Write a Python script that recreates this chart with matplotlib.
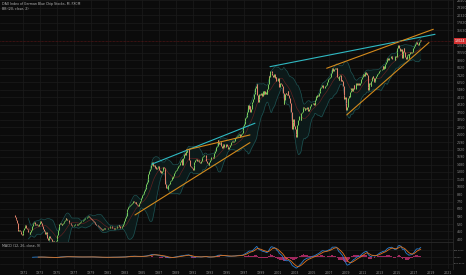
import numpy as np
import pandas as pd
import matplotlib
matplotlib.use("Agg")
import matplotlib.pyplot as plt
from matplotlib.transforms import blended_transform_factory

# ---------------- data ----------------
title = "DAX Index of German Blue Chip Stocks, M, FXCM"
bb_label = "BB (20, close, 2)"
macd_label = "MACD (12, 26, close, 9)"
start_year = 1970
first_open = 610

close_1970s = [
    590, 570, 560, 530, 480, 460, 470, 465, 450, 440, 430, 444,
    470, 490, 500, 510, 490, 480, 470, 450, 450, 440, 450, 473,
    500, 520, 530, 540, 520, 510, 520, 525, 510, 500, 520, 536,
    550, 530, 510, 500, 480, 460, 450, 440, 450, 440, 410, 396,
    410, 420, 410, 400, 390, 380, 385, 375, 372, 380, 390, 402,
    430, 470, 500, 520, 530, 520, 510, 520, 530, 540, 550, 563,
    580, 570, 560, 555, 540, 535, 530, 520, 510, 505, 500, 509,
    515, 520, 525, 520, 515, 510, 520, 530, 540, 545, 550, 549,
    555, 560, 570, 575, 580, 575, 585, 595, 600, 590, 580, 575,
    570, 560, 550, 545, 540, 530, 520, 515, 510, 505, 500, 498,
]
close_1980s = [
    495, 485, 475, 470, 475, 480, 485, 480, 478, 476, 478, 481,
    485, 490, 495, 505, 500, 495, 490, 485, 480, 480, 485, 490,
    495, 500, 505, 510, 500, 490, 490, 495, 505, 520, 535, 553,
    580, 600, 640, 680, 700, 710, 720, 730, 740, 745, 760, 774,
    780, 770, 760, 765, 740, 730, 720, 740, 760, 780, 800, 821,
    860, 880, 900, 930, 960, 1000, 1050, 1090, 1150, 1250, 1310, 1366,
    1400, 1480, 1560, 1540, 1450, 1460, 1400, 1420, 1380, 1400, 1420, 1432,
    1350, 1300, 1320, 1280, 1310, 1350, 1420, 1400, 1380, 1050, 980, 1000,
    970, 1040, 1050, 1080, 1100, 1130, 1180, 1160, 1220, 1280, 1300, 1328,
    1340, 1370, 1400, 1440, 1480, 1520, 1560, 1600, 1630, 1480, 1650, 1790,
]
close_1990s = [
    1800, 1760, 1880, 1840, 1900, 1920, 1960, 1600, 1450, 1430, 1420, 1398,
    1350, 1480, 1560, 1590, 1620, 1570, 1580, 1600, 1570, 1560, 1520, 1578,
    1650, 1700, 1720, 1730, 1760, 1750, 1660, 1580, 1530, 1500, 1480, 1545,
    1600, 1640, 1680, 1690, 1650, 1680, 1810, 1880, 1890, 2030, 2050, 2267,
    2200, 2120, 2150, 2180, 2060, 1980, 2070, 2120, 2000, 2020, 2020, 2107,
    2050, 2000, 1950, 2030, 2090, 2090, 2200, 2240, 2210, 2180, 2230, 2254,
    2350, 2400, 2450, 2470, 2480, 2510, 2420, 2450, 2550, 2580, 2700, 2889,
    3040, 3200, 3380, 3400, 3550, 3700, 4230, 3900, 4150, 3750, 3950, 4250,
    4400, 4700, 5100, 5300, 5700, 5900, 6100, 5000, 4400, 4650, 5100, 5002,
    5200, 4900, 4900, 5400, 5100, 5350, 5100, 5250, 5150, 5550, 6100, 6958,
]
close_2000s = [
    6850, 7600, 7600, 7400, 7100, 6900, 7200, 7300, 6800, 6900, 6400, 6434,
    6800, 6200, 5800, 6200, 6100, 6050, 5860, 5200, 4300, 4600, 5150, 5160,
    5100, 5050, 5400, 5050, 4800, 4380, 3700, 3700, 2770, 3150, 3320, 2893,
    2750, 2550, 2420, 2940, 2980, 3220, 3490, 3480, 3260, 3650, 3750, 3965,
    4060, 4020, 3860, 3985, 3920, 4050, 3900, 3790, 3890, 3960, 4130, 4256,
    4250, 4350, 4350, 4180, 4460, 4590, 4890, 4830, 5040, 4930, 5190, 5408,
    5680, 5800, 5970, 6010, 5690, 5680, 5680, 5860, 6000, 6270, 6310, 6597,
    6790, 6720, 6920, 7410, 7880, 8010, 7580, 7640, 7860, 8020, 7870, 8067,
    6850, 6750, 6530, 6950, 7100, 6420, 6480, 6420, 5830, 4990, 4670, 4810,
    4340, 3840, 4080, 4770, 4940, 4810, 5330, 5460, 5680, 5410, 5630, 5957,
]
close_2010s = [
    5610, 5600, 6150, 6140, 5960, 5970, 6150, 5930, 6230, 6600, 6690, 6914,
    7080, 7270, 7040, 7510, 7290, 7380, 7160, 5780, 5500, 6140, 6090, 5898,
    6460, 6860, 6950, 6760, 6260, 6420, 6770, 6970, 7220, 7260, 7400, 7612,
    7780, 7740, 7800, 7910, 8350, 7960, 8280, 8100, 8590, 9030, 9400, 9552,
    9310, 9690, 9560, 9600, 9940, 9830, 9410, 9470, 9470, 9330, 9980, 9806,
    10690, 11400, 11970, 11450, 11410, 10940, 11310, 10260, 9660, 10850, 11380, 10743,
    9800, 9500, 9970, 10040, 10260, 9680, 10340, 10590, 10510, 10670, 10640, 11481,
    11540, 11830, 12310, 12440, 12620, 12330, 12120, 12060, 12830, 13230, 13024,
]

year_ticks = list(range(1971, 2022, 2))
price_ticks = [400, 460, 520, 590, 680, 770, 880, 1000, 1140, 1300, 1480, 1690,
               1920, 2190, 2500, 2850, 3250, 3700, 4220, 4810, 5480, 6250, 7120,
               8120, 9260, 10550, 12030, 15630, 17820, 20320, 23160, 26400]
macd_ticks = [500, 0, -500]
last_price = 13024.0

trend_cyan = [((1986.13, 1489), (1998.30, 3057)),
              ((2000.07, 8250), (2019.52, 14560))]
trend_orange = [((1990.25, 1914), (1997.71, 2489)),
                ((1984.16, 611), (1997.71, 2175)),
                ((2006.75, 8021), (2019.32, 15910)),
                ((2009.11, 3535), (2018.81, 12600))]

# ---------------- derived series ----------------
close = pd.Series(close_1970s + close_1980s + close_1990s + close_2000s + close_2010s, dtype=float)
t = start_year + np.arange(len(close)) / 12.0
opens = close.shift(1).fillna(first_open)

basis = close.rolling(20).mean()
sd = close.rolling(20).std(ddof=0)
upper = basis + 2 * sd
lower = basis - 2 * sd

ema12 = close.ewm(span=12, adjust=False).mean()
ema26 = close.ewm(span=26, adjust=False).mean()
macd = ema12 - ema26
signal = macd.ewm(span=9, adjust=False).mean()
hist = macd - signal
valid = np.arange(len(close)) >= 25
sig_valid = np.arange(len(close)) >= 33

# ---------------- style ----------------
BG = "#0b0b0b"
GRID = "#1b1b1b"
TXT = "#8c8c8c"
UP = "#79c95a"
DN = "#e0806a"

fig = plt.figure(figsize=(4.66, 2.75), dpi=100, facecolor=BG)
ax = fig.add_axes([0, 0.12, 453 / 466, 0.88], facecolor=BG)
axm = fig.add_axes([0, 6 / 275, 453 / 466, 27 / 275], facecolor=BG)

xlim = (1968.25, 2021.64)
for a in (ax, axm):
    a.set_xlim(*xlim)
    a.set_xticks(year_ticks)
    a.grid(True, color=GRID, lw=0.5)
    a.set_axisbelow(True)
    for s in a.spines.values():
        s.set_color("#2a2a2a")
        s.set_linewidth(0.6)
    a.spines["left"].set_visible(False)
    a.spines["top"].set_visible(False)

ax.set_yscale("log")
ax.set_ylim(380, 26590)
ax.yaxis.tick_right()
ax.set_yticks(price_ticks)
ax.set_yticklabels([str(v) for v in price_ticks])
ax.minorticks_off()
ax.tick_params(axis="y", labelsize=2.3, colors=TXT, length=0, pad=2.5)
ax.tick_params(axis="x", labelbottom=False, length=0)
ax.spines["bottom"].set_visible(True)

# Bollinger bands
ax.fill_between(t, lower, upper, color="#0d1d1d", alpha=0.8, lw=0)
ax.plot(t, upper, color="#1d5252", lw=0.5)
ax.plot(t, lower, color="#1d5252", lw=0.5)
ax.plot(t, basis, color="#5e2020", lw=0.5)

# candles (body open->close)
colors = np.where(close.values >= opens.values, UP, DN)
ax.vlines(t, opens.values, close.values, colors=colors, lw=0.75)

# trendlines
for (x0, y0), (x1, y1) in trend_cyan:
    ax.plot([x0, x1], [y0, y1], color="#2fb9c2", lw=0.8, solid_capstyle="round")
for (x0, y0), (x1, y1) in trend_orange:
    ax.plot([x0, x1], [y0, y1], color="#d48a1c", lw=0.8, solid_capstyle="round")

# last price line and label
ax.axhline(last_price, color="#6a1818", lw=0.5, ls=(0, (1, 1)))
tr = blended_transform_factory(ax.transAxes, ax.transData)
ax.text(1.004, last_price, f"{last_price:.0f}", transform=tr, fontsize=2.3,
        color="white", va="center", ha="left",
        bbox=dict(boxstyle="square,pad=0.35", fc="#d32f2f", ec="none"))

ax.text(0.004, 0.993, title, transform=ax.transAxes, fontsize=2.3, color="#b5b5b5",
        va="top", ha="left")
ax.text(0.004, 0.972, bb_label, transform=ax.transAxes, fontsize=2.3, color="#b5b5b5",
        va="top", ha="left")

# MACD pane
axm.bar(t[valid], hist[valid], width=1 / 12, color="#a0285e", lw=0)
axm.plot(t[valid], macd[valid], color="#2b7fd0", lw=0.6)
axm.plot(t[sig_valid], signal[sig_valid], color="#e0741f", lw=0.6)
vals = np.concatenate([macd[valid].values, signal[sig_valid].values])
axm.set_ylim(vals.min() * 1.08, vals.max() * 1.3)
axm.yaxis.tick_right()
axm.set_yticks(macd_ticks)
axm.set_yticklabels([f"{v:.4f}" for v in macd_ticks])
axm.tick_params(axis="y", labelsize=1.6, colors=TXT, length=0, pad=0.8)
axm.tick_params(axis="x", labelsize=2.3, colors=TXT, length=0, pad=1.5)
axm.set_xticklabels([str(y) for y in year_ticks])
axm.spines["bottom"].set_visible(False)
axm.spines["top"].set_visible(True)
axm.text(0.004, 0.93, macd_label, transform=axm.transAxes, fontsize=2.3,
         color="#b5b5b5", va="top", ha="left")

fig.savefig("out.png", dpi=100, facecolor=BG)
